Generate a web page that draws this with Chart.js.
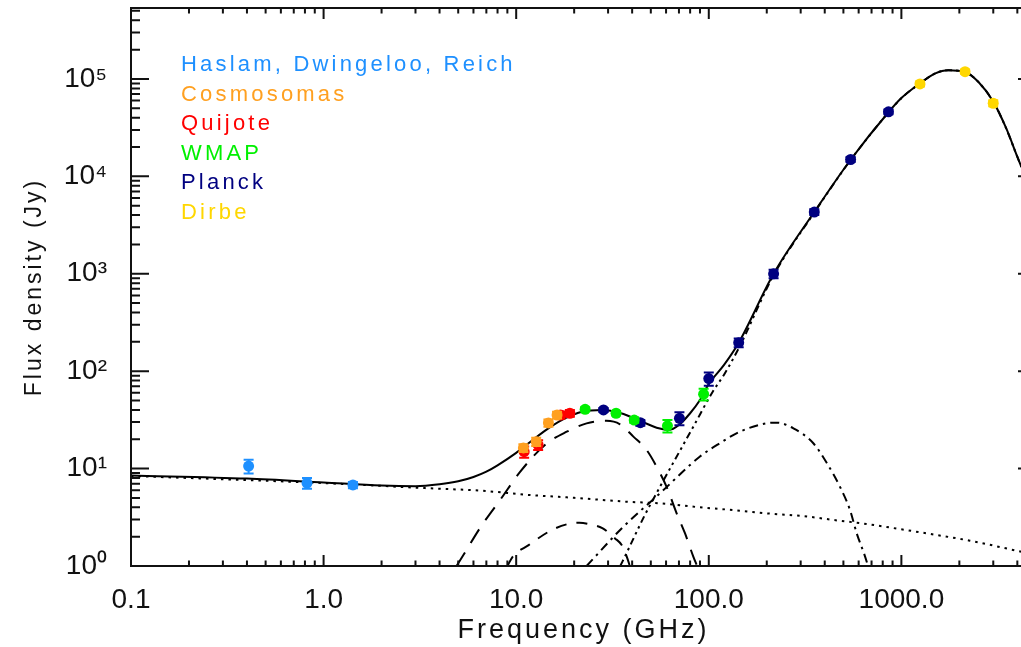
<!DOCTYPE html>
<html>
<head>
<meta charset="utf-8">
<script src="https://cdn.jsdelivr.net/npm/chart.js@4.4.1/dist/chart.umd.min.js"></script>
<style>
  html, body { margin: 0; padding: 0; background: #fff; overflow: hidden; }
  /* the plot box runs a little past the right edge of the picture */
  #wrap { width: 1021px; height: 647px; overflow: hidden; }
</style>
</head>
<body>
<div id="wrap"><canvas id="sed" width="1036" height="647"></canvas></div>
<script>
// axis tick labels (decades only, minor ticks are unlabeled)
const xTickValues = [0.1, 1, 10, 100, 1000];
const xTickLabels = ['0.1', '1.0', '10.0', '100.0', '1000.0'];
const yTickValues = [1, 10, 100, 1000, 10000, 100000];
const yTickLabels = ['10\u2070', '10\u00b9', '10\u00b2', '10\u00b3', '10\u2074', '10\u2075'];

// observations: frequency (GHz), flux density (Jy), 1-sigma error (Jy)
const haslamFreq = [0.408, 0.82, 1.42];
const haslamFlux = [10.6, 7.1, 6.8];
const haslamErr = [1.7, 0.9, 0.5];

const cosmoFreq = [10.9, 12.7, 14.7, 16.3];
const cosmoFlux = [16.3, 18.9, 29.4, 35.5];
const cosmoErr = [1.5, 1.8, 2.5, 2.8];

const quijoteFreq = [11, 13, 17, 19];
const quijoteFlux = [14.9, 17.5, 35.5, 37];
const quijoteErr = [2, 2, 3, 3];

const wmapFreq = [22.8, 33, 41, 61, 94];
const wmapFlux = [40.6, 37, 31.5, 27.5, 58];
const wmapErr = [2, 2, 2, 4, 8];

const planckFreq = [28.4, 44.1, 70.4, 100, 143, 217, 353, 545, 857];
const planckFlux = [40, 29.6, 32.8, 84, 196, 1000, 4300, 14900, 46000];
const planckErr = [2, 2, 5, 13, 20, 100, 300, 900, 2500];

const dirbeFreq = [1249, 2141, 2998];
const dirbeFlux = [88900, 118900, 56300];
const dirbeErr = [5000, 6000, 4000];

// model components
const totalFreq = [0.1, 0.4, 1, 2, 3, 4, 5, 6, 7, 8, 10, 12, 15, 18, 22, 28, 35, 45, 55, 62, 70, 80, 90, 100, 120, 143, 217, 353, 545, 857, 1000, 1249, 1500, 1750, 2141, 2500, 3000, 3500, 4000, 4200];
const totalFlux = [8.5, 7.9, 7.2, 6.7, 6.6, 6.9, 7.4, 8.2, 9.3, 10.8, 14.5, 19.2, 26.6, 33, 38.4, 40, 37, 30.3, 25.9, 24.9, 28, 37, 50.6, 74, 116, 196, 1000, 4300, 14800, 45500, 63600, 90000, 114000, 123000, 118000, 94000, 58500, 31200, 15900, 12500];

const freeFreeFreq = [0.1, 1, 3.57, 6.5, 11.8, 18.3, 25, 37.5, 56, 90, 134, 200, 325, 443, 660, 1000, 1525, 2270, 4200];
const freeFreeFlux = [8.4, 7.1, 6.27, 5.94, 5.35, 5.07, 4.85, 4.57, 4.4, 4.0, 3.75, 3.47, 3.22, 2.97, 2.7, 2.38, 2.08, 1.82, 1.4];

const ameFreq = [4.9, 5.3, 6.5, 8.3, 10.5, 14.1, 18.3, 23.2, 29.4, 34.6, 40.6, 47.6, 55.8, 60.4, 68.1, 75.2, 83.1, 87];
const ameFlux = [1, 1.28, 2.47, 4.84, 9.3, 17.5, 23.9, 29.1, 30.9, 28.5, 21.3, 15.5, 9.0, 6.5, 3.47, 2.17, 1.25, 1];

const ame2Freq = [9.0, 9.6, 11.6, 15.0, 18.3, 21.3, 25, 28, 32.6, 35.3, 37.5, 38.9];
const ame2Flux = [1, 1.25, 1.64, 2.29, 2.68, 2.78, 2.64, 2.45, 1.92, 1.64, 1.25, 1];

const cmbFreq = [23.2, 36, 55.8, 90, 114, 145, 200, 225, 275, 349, 410, 480, 541, 586, 648, 671];
const cmbFlux = [1, 2.53, 5.58, 13.3, 18.2, 23.9, 29.2, 29.6, 25.9, 18.2, 11.4, 6.5, 3.76, 2.17, 1.25, 1];

const dustFreq = [34.7, 37.5, 45.7, 55.8, 83.1, 105, 120, 143, 217, 353, 545, 857, 1000, 1249, 1500, 1750, 2141, 2500, 3000, 3500, 4000, 4200];
const dustFlux = [1, 1.37, 3.1, 6.5, 26.9, 62, 92, 172, 965, 4250, 14700, 45400, 63500, 89900, 113900, 122900, 117900, 93900, 58400, 31100, 15850, 12450];

const legendLabels = ['Haslam, Dwingeloo, Reich', 'Cosmosomas', 'Quijote', 'WMAP', 'Planck', 'Dirbe'];
const legendColors = ['#1e90ff', '#ffa020', '#ff0000', '#00f000', '#000080', '#ffd700'];

const FONT = "'Liberation Sans', Arial, Helvetica, sans-serif";

function pts(xs, ys) {
    return xs.map((x, i) => ({ x: x, y: ys[i] }));
}

function obsSet(label, xs, ys, errs, color) {
    return {
        label: label,
        data: pts(xs, ys),
        errors: errs,
        showLine: false,
        pointRadius: 5.5,
        pointHoverRadius: 5.5,
        pointBorderWidth: 0,
        pointBackgroundColor: color,
        borderColor: color,
        order: 0
    };
}

function curveSet(label, xs, ys, dash, width) {
    return {
        label: label,
        data: pts(xs, ys),
        borderColor: '#000',
        borderWidth: width,
        borderDash: dash,
        pointRadius: 0,
        fill: false,
        cubicInterpolationMode: 'monotone',
        order: 1
    };
}

// no label overflow room: the plot box is set by the layout padding
function noPad(s) {
    s.paddingTop = 0; s.paddingBottom = 0;
    s.paddingLeft = 0; s.paddingRight = 0;
}

// error bars + axis frame with inward IDL-style ticks + legend
const sedPlugin = {
    id: 'sedPlugin',
    beforeDraw(chart) {
        // wide spacing for the axis titles (drawn before datasets)
        chart.ctx.letterSpacing = '3px';
    },
    beforeDatasetsDraw(chart) {
        chart.ctx.letterSpacing = '0px';
    },
    beforeDatasetDraw(chart, args) {
        const ds = chart.data.datasets[args.index];
        if (!ds.errors) return;
        const ctx = chart.ctx;
        const xs = chart.scales.x, ys = chart.scales.y;
        ctx.save();
        ctx.strokeStyle = ds.pointBackgroundColor;
        ctx.lineWidth = 2;
        ds.data.forEach((p, i) => {
            const e = ds.errors[i];
            const px = xs.getPixelForValue(p.x);
            const y1 = ys.getPixelForValue(Math.max(p.y - e, 1e-3));
            const y2 = ys.getPixelForValue(p.y + e);
            ctx.beginPath();
            ctx.moveTo(px, y1); ctx.lineTo(px, y2);
            ctx.moveTo(px - 5, y1); ctx.lineTo(px + 5, y1);
            ctx.moveTo(px - 5, y2); ctx.lineTo(px + 5, y2);
            ctx.stroke();
        });
        ctx.restore();
    },
    afterDatasetsDraw(chart) {
        const ctx = chart.ctx;
        const a = chart.chartArea;
        const xs = chart.scales.x, ys = chart.scales.y;
        ctx.save();
        ctx.strokeStyle = '#111';
        ctx.lineWidth = 2;
        ctx.strokeRect(a.left, a.top, a.right - a.left, a.bottom - a.top);
        ctx.beginPath();
        for (let d = 0.1; d < 5000; d *= 10) {
            for (let m = 1; m < 10; m++) {
                const v = d * m;
                if (v > 5000) break;
                const px = xs.getPixelForValue(v);
                const len = m === 1 ? 11 : 5.5;
                ctx.moveTo(px, a.bottom); ctx.lineTo(px, a.bottom - len);
                ctx.moveTo(px, a.top); ctx.lineTo(px, a.top + len);
            }
        }
        for (let d = 1; d < 6e5; d *= 10) {
            for (let m = 1; m < 10; m++) {
                const v = d * m;
                if (v > 5.35e5) break;
                const py = ys.getPixelForValue(v);
                const len = m === 1 ? 18 : 9;
                ctx.moveTo(a.left, py); ctx.lineTo(a.left + len, py);
                ctx.moveTo(a.right, py); ctx.lineTo(a.right - len, py);
            }
        }
        ctx.stroke();
        ctx.restore();
    },
    afterDraw(chart) {
        const ctx = chart.ctx;
        const a = chart.chartArea;
        ctx.save();
        ctx.letterSpacing = '3.2px';
        ctx.font = '22px ' + FONT;
        ctx.textAlign = 'left';
        ctx.textBaseline = 'alphabetic';
        legendLabels.forEach((t, i) => {
            ctx.fillStyle = legendColors[i];
            ctx.fillText(t, a.left + 50, a.top + 63 + 29.5 * i);
        });
        ctx.restore();
    }
};

new Chart(document.getElementById('sed'), {
    type: 'line',
    data: {
        datasets: [
            obsSet('Haslam, Dwingeloo, Reich', haslamFreq, haslamFlux, haslamErr, legendColors[0]),
            obsSet('Cosmosomas', cosmoFreq, cosmoFlux, cosmoErr, legendColors[1]),
            obsSet('Quijote', quijoteFreq, quijoteFlux, quijoteErr, legendColors[2]),
            obsSet('WMAP', wmapFreq, wmapFlux, wmapErr, legendColors[3]),
            obsSet('Planck', planckFreq, planckFlux, planckErr, legendColors[4]),
            obsSet('Dirbe', dirbeFreq, dirbeFlux, dirbeErr, legendColors[5]),
            curveSet('Total', totalFreq, totalFlux, [], 2),
            curveSet('Free-free + synchrotron', freeFreeFreq, freeFreeFlux, [2.5, 5], 2),
            curveSet('AME', ameFreq, ameFlux, [16, 11], 2),
            curveSet('AME 2', ame2Freq, ame2Flux, [11, 10], 2),
            curveSet('CMB', cmbFreq, cmbFlux, [9, 5, 2.5, 5], 2),
            curveSet('Thermal dust', dustFreq, dustFlux, [7, 4, 2.5, 4, 2.5, 4], 2)
        ]
    },
    options: {
        responsive: false,
        animation: false,
        devicePixelRatio: 1,
        layout: { autoPadding: false, padding: { left: 0, right: 0, top: 8, bottom: 0 } },
        plugins: {
            legend: { display: false },
            tooltip: { enabled: false }
        },
        scales: {
            x: {
                type: 'logarithmic',
                position: 'bottom',
                min: 0.1,
                max: 5000,
                afterFit(s) { s.height = 81; noPad(s); },
                afterBuildTicks(s) { s.ticks = xTickValues.map(v => ({ value: v })); },
                grid: { display: false, drawTicks: false },
                border: { display: false },
                ticks: {
                    z: 1,
                    autoSkip: false,
                    maxRotation: 0,
                    padding: 17,
                    color: '#111',
                    font: { family: FONT, size: 28 },
                    callback: (v, i) => xTickLabels[i]
                },
                title: {
                    display: true,
                    text: 'Frequency (GHz)',
                    color: '#111',
                    font: { family: FONT, size: 27 },
                    padding: { top: 0, bottom: 0 }
                }
            },
            y: {
                type: 'logarithmic',
                position: 'left',
                min: 1,
                max: 5.35e5,
                afterFit(s) { s.width = 131; noPad(s); },
                afterBuildTicks(s) { s.ticks = yTickValues.map(v => ({ value: v })); },
                grid: { display: false, drawTicks: false },
                border: { display: false },
                ticks: {
                    z: 1,
                    autoSkip: false,
                    padding: 24,
                    color: '#111',
                    font: { family: FONT, size: 28 },
                    callback: (v, i) => yTickLabels[i]
                },
                title: {
                    display: true,
                    text: 'Flux density (Jy)',
                    color: '#111',
                    font: { family: FONT, size: 23 },
                    padding: { top: 21, bottom: 0 }
                }
            }
        }
    },
    plugins: [sedPlugin]
});
</script>
</body>
</html>
